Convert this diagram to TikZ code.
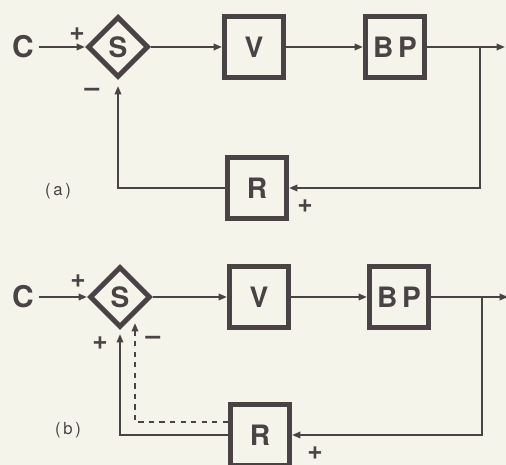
\documentclass[tikz,border=0pt]{standalone}
\usepackage{fontspec}
\setsansfont{TeX Gyre Heros}
\usetikzlibrary{arrows.meta,positioning,calc,shapes.geometric}
\definecolor{PaperCream}{HTML}{F4F4EA}
\definecolor{InkGray}{HTML}{4A4345}

\begin{document}
\begin{tikzpicture}[x=0.02cm,y=-0.02cm, every node/.style={text=InkGray}]
    \tikzset{blk/.style={draw=InkGray,line width=0.1cm,minimum width=1.18cm,minimum height=1.22cm,
      inner sep=0pt,font=\sffamily\bfseries\fontsize{16}{16}\selectfont},
      sumdia/.style={diamond,draw=InkGray,line width=0.1cm,minimum width=1.22cm,minimum height=1.22cm,
      inner sep=0pt,font=\sffamily\bfseries\fontsize{16}{16}\selectfont},
      inlbl/.style={inner sep=0pt,outer sep=0.1cm,font=\sffamily\bfseries\fontsize{17}{17}\selectfont},
      sgn/.style={inner sep=0pt,font=\sffamily\bfseries\fontsize{15}{15}\selectfont},
      partlbl/.style={inner sep=0pt,font=\sffamily\fontsize{9.5}{9.5}\selectfont},
      wire/.style={draw=InkGray,line width=0.04cm,-{Triangle[length=0.17cm,width=0.13cm]}}}
    \fill[PaperCream] (0,0) rectangle (506,465);
    \useasboundingbox (0,0) rectangle (506,465);
    % (a)
    \node[inlbl] (ca) at (23,47) {C};
    \node[sumdia] (sa) at (118,47) {S};
    \node[blk] (va) at (254,47) {V};
    \node[blk] (bpa) at (395,47) {B\,P};
    \node[blk] (ra) at (257,188) {R};
    \coordinate (outa) at (505,47);
    \coordinate (taka) at (480,47);
    \foreach \a/\b in {ca/sa,sa/va,va/bpa,bpa/outa}{\draw[wire] (\a) -- (\b);}
    \draw[wire] (taka) |- (ra.east);
    \draw[wire,shorten >=0.12cm] (ra.west) -| (sa.south);
    \node[sgn] (pa1) at (77,34) {+};
    \node[sgn] (ma1) at (92,92) {--};
    \node[sgn] (pa2) at (305,206) {+};
    \node[partlbl] (lbla) at (58,191) {(\,a\,)};
    % (b)
    \node[inlbl] (cb) at (23,297) {C};
    \node[sumdia] (sb) at (120,297) {S};
    \node[blk] (vb) at (259,297) {V};
    \node[blk] (bpb) at (399,297) {B\,P};
    \node[blk] (rb) at (260,435) {R};
    \coordinate (outb) at (508,297);
    \coordinate (takb) at (482,297);
    \foreach \a/\b in {cb/sb,sb/vb,vb/bpb,bpb/outb}{\draw[wire] (\a) -- (\b);}
    \draw[wire] (takb) |- (rb.east);
    \draw[wire,shorten >=0.08cm] (rb.west) -| (sb.south);
    \draw[wire,dashed] ($(rb.west)+(0,-13)$) -| ($(sb.south)+(15,-7)$);
    \node[sgn] (pb1) at (78,281) {+};
    \node[sgn] (pb2) at (100,343) {+};
    \node[sgn] (mb1) at (153,340) {--};
    \node[sgn] (pb3) at (315,453) {+};
    \node[partlbl] (lblb) at (68,430) {(\,b\,)};
  \end{tikzpicture}
\end{document}
